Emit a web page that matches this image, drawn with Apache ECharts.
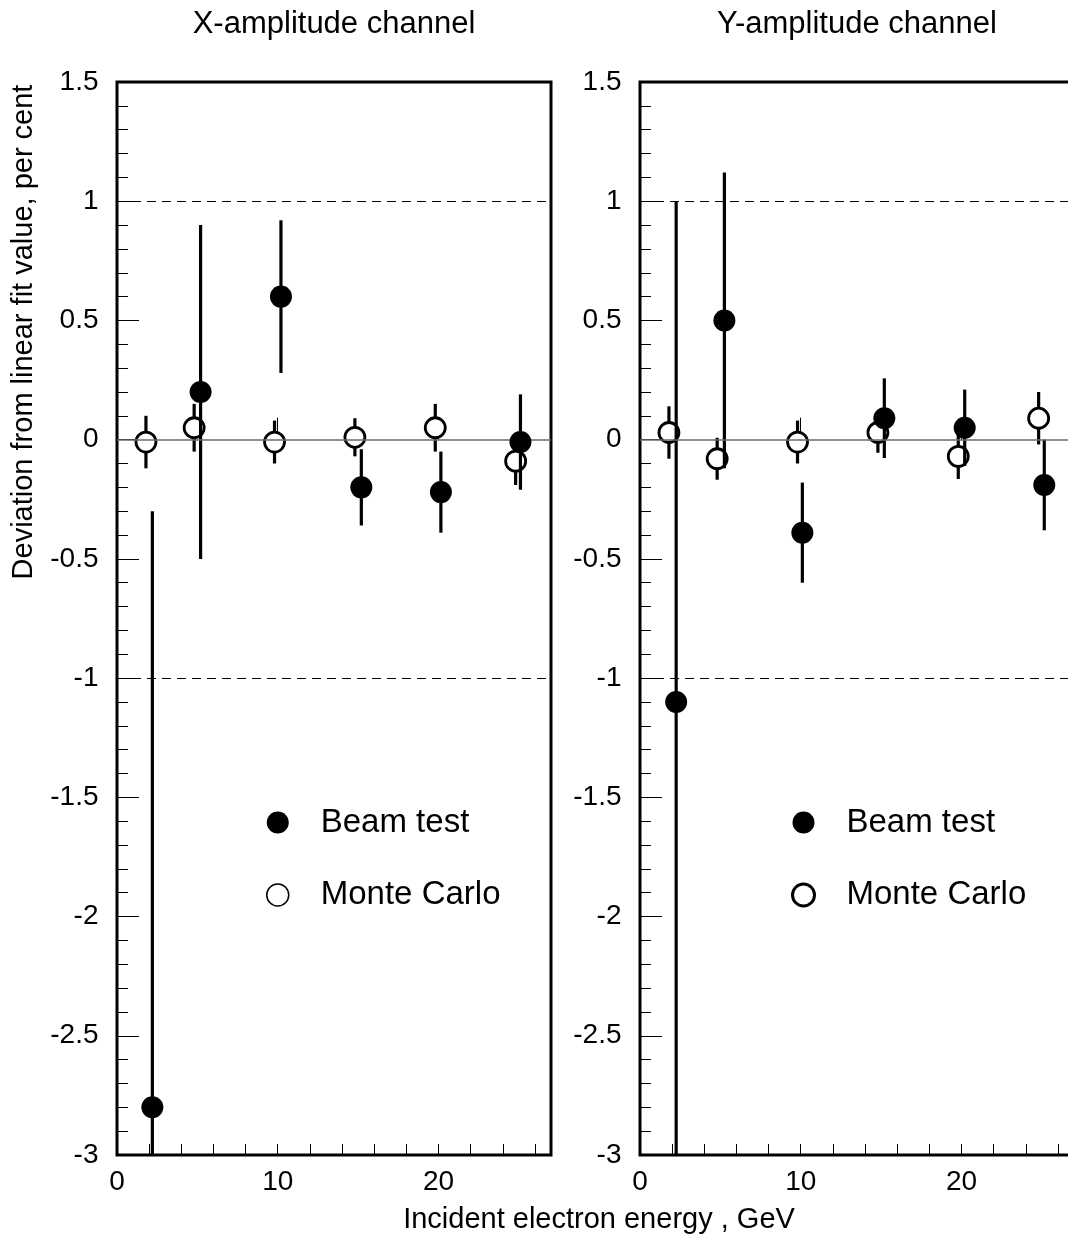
<!DOCTYPE html>
<html>
<head>
<meta charset="utf-8">
<script src="https://cdn.jsdelivr.net/npm/echarts@6/dist/echarts.min.js"></script>
<style>
html,body{margin:0;padding:0;background:#fff;}
#chart{width:1068px;height:1238px;}
</style>
</head>
<body>
<div id="chart"></div>
<script>
// ---- Data ----
// X-amplitude channel
const xBeamE   = [2.2, 5.2, 10.2, 15.2, 20.15, 25.1];
const xBeamDev = [-2.8, 0.2, 0.6, -0.2, -0.22, -0.01];
const xBeamErr = [2.5, 0.7, 0.32, 0.16, 0.17, 0.2];
const xMcE     = [1.8, 4.8, 9.8, 14.8, 19.8, 24.8];
const xMcDev   = [-0.01, 0.05, -0.01, 0.01, 0.05, -0.09];
const xMcErr   = [0.11, 0.1, 0.09, 0.08, 0.1, 0.1];
// Y-amplitude channel
const yBeamE   = [2.25, 5.25, 10.1, 15.2, 20.2, 25.15];
const yBeamDev = [-1.1, 0.5, -0.39, 0.09, 0.05, -0.19];
const yBeamErr = [2.1, 0.62, 0.21, 0.167, 0.16, 0.19];
const yMcE     = [1.8, 4.8, 9.8, 14.8, 19.8, 24.8];
const yMcDev   = [0.03, -0.08, -0.01, 0.03, -0.07, 0.09];
const yMcErr   = [0.11, 0.088, 0.09, 0.085, 0.095, 0.11];

const panelTitles = ['X-amplitude channel', 'Y-amplitude channel'];
const seriesNames = ['Beam test', 'Monte Carlo'];
const xAxisTitle = 'Incident electron energy , GeV';
const yAxisTitle = 'Deviation from linear fit value, per cent';
const refLines = [1, -1];

const FONT = 'Liberation Sans, Arial, Helvetica, sans-serif';

function pts(e, v) { return e.map((x, i) => [x, v[i]]); }
function errPts(e, v, s) { return e.map((x, i) => [x, v[i], s[i]]); }

function renderErr(params, api) {
  const x = api.value(0), y = api.value(1), s = api.value(2);
  const cs = params.coordSys;
  const p1 = api.coord([x, y + s]);
  const p2 = api.coord([x, y - s]);
  const top = cs.y, bot = cs.y + cs.height;
  const y1 = Math.max(top, Math.min(bot, p1[1]));
  const y2 = Math.max(top, Math.min(bot, p2[1]));
  return {
    type: 'line',
    shape: { x1: p1[0], y1: y1, x2: p2[0], y2: y2 },
    style: { stroke: '#000', lineWidth: 3.2 }
  };
}

function grid(left) {
  return {
    left: left, top: 82, width: 434, height: 1073,
    show: true, borderColor: '#000', borderWidth: 3,
    backgroundColor: 'transparent', containLabel: false, outerBoundsMode: 'none'
  };
}

function majorX(gi) {
  return {
    gridIndex: gi, type: 'value', min: 0, max: 27, interval: 10, position: 'bottom',
    axisLine: { show: false },
    axisTick: { show: true, inside: true, length: 22, lineStyle: { color: '#000', width: 1 } },
    axisLabel: { show: true, fontSize: 28, color: '#000', fontFamily: FONT, margin: 13, showMaxLabel: false },
    splitLine: { show: false }
  };
}
function minorX(gi) {
  return {
    gridIndex: gi, type: 'value', min: 0, max: 27, interval: 2, position: 'bottom', offset: 0,
    axisLine: { show: false },
    axisTick: { show: true, inside: true, length: 11, lineStyle: { color: '#000', width: 1 } },
    axisLabel: { show: false },
    splitLine: { show: false }
  };
}
function yAx(gi) {
  return {
    gridIndex: gi, type: 'value', min: -3, max: 1.5, interval: 0.5,
    axisLine: { show: false },
    axisTick: { show: true, inside: true, length: 22, lineStyle: { color: '#000', width: 1 } },
    minorTick: { show: true, splitNumber: 5, length: 11, lineStyle: { color: '#000', width: 1 } },
    axisLabel: { show: true, fontSize: 28, color: '#000', fontFamily: FONT, margin: 18.5 },
    splitLine: { show: false }, minorSplitLine: { show: false }
  };
}

function panelSeries(gi, bE, bV, bS, mE, mV, mS) {
  const xi = gi * 2;
  return [
    {
      name: 'mcErr' + gi, type: 'custom', xAxisIndex: xi, yAxisIndex: gi, z: 2,
      renderItem: renderErr, data: errPts(mE, mV, mS), silent: true,
      markLine: {
        silent: true, symbol: 'none', label: { show: false },
        data: refLines.map(v => ({ yAxis: v, lineStyle: { type: [9, 6], color: '#000', width: 1 } }))
          .concat([{ yAxis: 0, lineStyle: { type: 'solid', color: '#6a6a6a', width: 1.5 } }])
      }
    },
    {
      name: seriesNames[1], type: 'scatter', xAxisIndex: xi, yAxisIndex: gi, z: 3,
      symbol: 'circle', symbolSize: 20,
      itemStyle: { color: '#fff', borderColor: '#000', borderWidth: 2.8, opacity: 1 },
      data: pts(mE, mV)
    },
    {
      name: 'beamErr' + gi, type: 'custom', xAxisIndex: xi, yAxisIndex: gi, z: 4,
      renderItem: renderErr, data: errPts(bE, bV, bS), silent: true
    },
    {
      name: seriesNames[0], type: 'scatter', xAxisIndex: xi, yAxisIndex: gi, z: 5,
      symbol: 'circle', symbolSize: 22,
      itemStyle: { color: '#000', opacity: 1 },
      data: pts(bE, bV)
    }
  ];
}

function legend(left, mcBorder) {
  return {
    left: left, top: 806, orient: 'vertical', padding: 0,
    itemWidth: 22, itemHeight: 22, itemGap: 39.5, icon: 'circle', selectedMode: false,
    textStyle: { fontSize: 33, color: '#000', fontFamily: FONT, padding: [0, 0, 0, 27] },
    data: [
      { name: seriesNames[0], itemStyle: { color: '#000', borderWidth: 0 } },
      { name: seriesNames[1], itemStyle: { color: '#fff', borderColor: '#000', borderWidth: mcBorder } }
    ]
  };
}

const chart = echarts.init(document.getElementById('chart'), null, { renderer: 'canvas' });
chart.setOption({
  backgroundColor: '#fff',
  animation: false,
  textStyle: { fontFamily: FONT },
  grid: [grid(117), grid(640)],
  xAxis: [majorX(0), minorX(0), majorX(1), minorX(1)],
  yAxis: [yAx(0), yAx(1)],
  legend: [legend(266, 1.5), legend(791, 3)],
  series: [].concat(
    panelSeries(0, xBeamE, xBeamDev, xBeamErr, xMcE, xMcDev, xMcErr),
    panelSeries(1, yBeamE, yBeamDev, yBeamErr, yMcE, yMcDev, yMcErr)
  ),
  graphic: [
    { type: 'text', x: 334, y: 24.3, style: { text: panelTitles[0], fontSize: 31, fontFamily: FONT, fill: '#000', align: 'center', verticalAlign: 'middle' } },
    { type: 'text', x: 857, y: 24.3, style: { text: panelTitles[1], fontSize: 31, fontFamily: FONT, fill: '#000', align: 'center', verticalAlign: 'middle' } },
    { type: 'text', x: 24, y: 332, rotation: Math.PI / 2, style: { text: yAxisTitle, fontSize: 29, fontFamily: FONT, fill: '#000', align: 'center', verticalAlign: 'middle' } },
    { type: 'text', x: 599, y: 1219.5, style: { text: xAxisTitle, fontSize: 29, fontFamily: FONT, fill: '#000', align: 'center', verticalAlign: 'middle' } }
  ]
});
</script>
</body>
</html>
